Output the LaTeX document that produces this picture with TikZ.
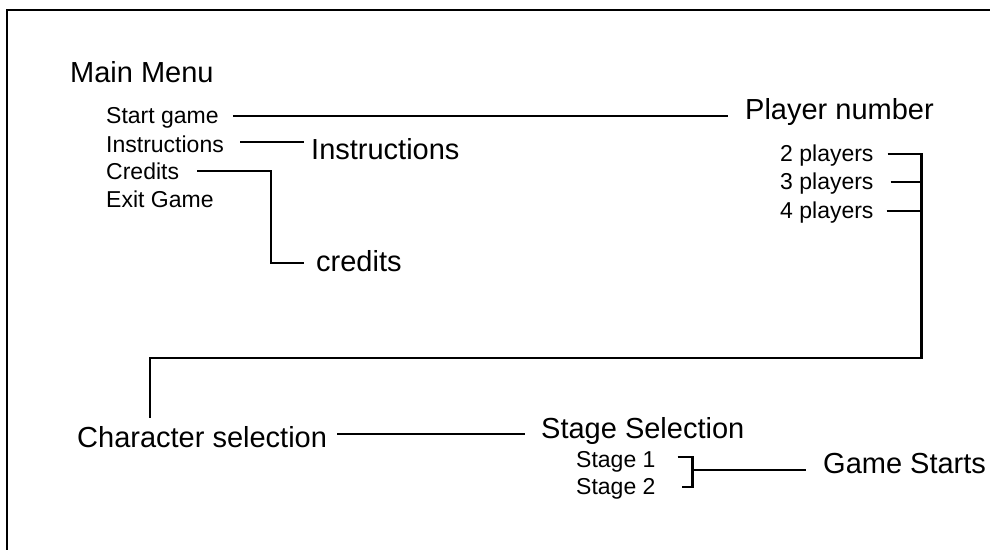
\documentclass[tikz,border=0pt]{standalone}
\usepackage{fontspec}
\setmainfont{Liberation Sans}
\usetikzlibrary{calc}
\begin{document}
\begin{tikzpicture}[x=1pt,y=-1pt,
  big/.style={font=\fontsize{29}{31}\selectfont,inner sep=0pt,anchor=base west},
  small/.style={font=\fontsize{23}{25}\selectfont,inner sep=0pt,anchor=base west},
  conn/.style={line width=2.5pt,line cap=butt,line join=miter},
  frame/.style={line width=1.5pt}]
\useasboundingbox (0,0) rectangle (990,549);
\fill[white] (0,0) rectangle (990,549);
\draw[frame] (7,560) -- (7,10) -- (1000,10);

% texts
\node[big]   (mm)   at (70,82)   {Main Menu};
\node[small] (sg)   at (106,123) {Start game};
\node[small] (ins)  at (106,152) {Instructions};
\node[small] (cr)   at (106,179) {Credits};
\node[small] (ex)   at (106,207) {Exit Game};
\node[big]   (insT) at (311,159) {Instructions};
\node[big]   (crT)  at (316,271) {credits};
\node[big]   (pn)   at (745,119) {Player number};
\node[small] (p2)   at (780,161) {2 players};
\node[small] (p3)   at (780,189) {3 players};
\node[small] (p4)   at (780,218) {4 players};
\node[big]   (cs)   at (77,447)  {Character selection};
\node[big]   (ss)   at (541,438) {Stage Selection};
\node[small] (s1)   at (576,467) {Stage 1};
\node[small] (s2)   at (576,494) {Stage 2};
\node[big]   (gs)   at (823,473) {Game Starts};

% connector points
\coordinate (sgR)  at ($(sg.base east)+(14,-7)$);
\coordinate (pnL)  at ($(pn.base west)+(-17,-3)$);
\coordinate (insR) at ($(ins.base east)+(16,-10)$);
\coordinate (insL) at ($(insT.base west)+(-7,-17)$);
\coordinate (crR)  at ($(cr.base east)+(18,-8)$);
\coordinate (crK)  at ($(crT.base west)+(-45,-8)$);
\coordinate (crL)  at ($(crT.base west)+(-12,-8)$);
\coordinate (p2R)  at ($(p2.base east)+(14,-7)$);
\coordinate (p3R)  at ($(p3.base east)+(17,-7)$);
\coordinate (p4R)  at ($(p4.base east)+(13,-7)$);
\coordinate (pBr)  at ($(p2.base east)+(48,197)$);
\coordinate (csT)  at ($(cs.base west)+(73,-29)$);
\coordinate (csR)  at ($(cs.base east)+(10,-13)$);
\coordinate (ssL)  at ($(ss.base west)+(-16,-4)$);
\coordinate (s1R)  at ($(s1.base east)+(22,-10)$);
\coordinate (s2R)  at ($(s2.base east)+(26,-7)$);
\coordinate (sBr)  at ($(s2.base east)+(37,-7)$);
\coordinate (gsL)  at ($(gs.base west)+(-17,-3)$);

% connectors
\draw[conn] (sgR) -- (sgR -| pnL);
\draw[conn] (insR) -- (insR -| insL);
\draw[conn] (crR) -| (crK) -- (crL);
\draw[conn] (p2R) -| (pBr) -| (csT);
\draw[conn] (p3R) -- (p3R -| pBr);
\draw[conn] (p4R) -- (p4R -| pBr);
\draw[conn] (csR) -- (csR -| ssL);
\draw[conn] (s1R) -| (sBr) -- (s2R);
\draw[conn] (gsL -| sBr) -- (gsL);
\end{tikzpicture}
\end{document}
